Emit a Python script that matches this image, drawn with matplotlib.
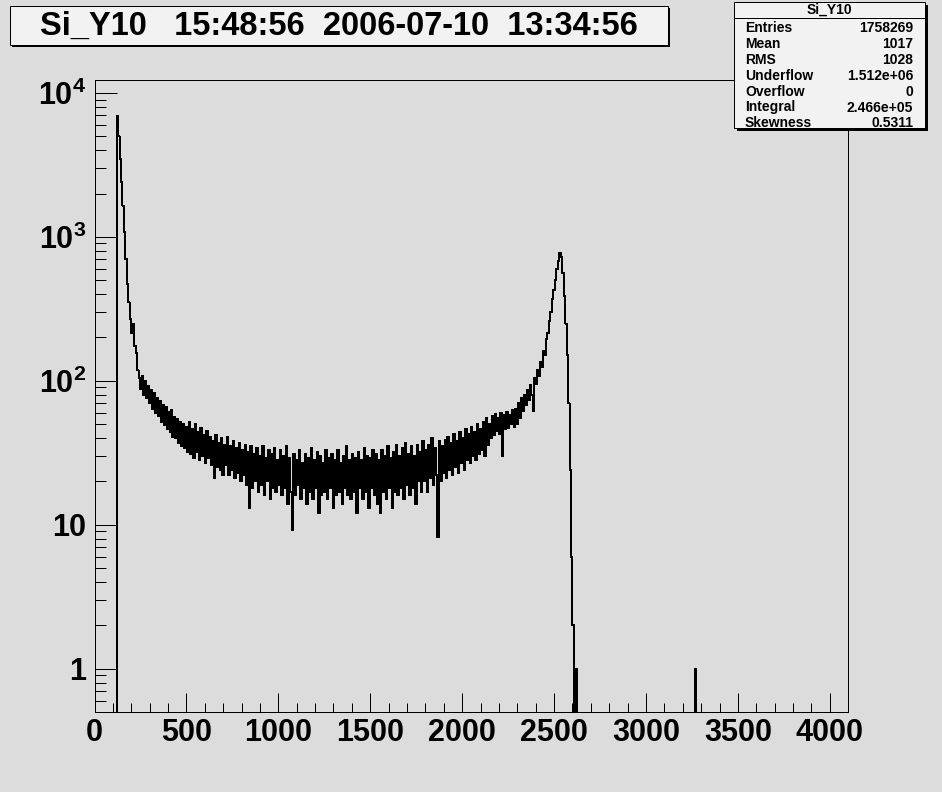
import numpy as np
import matplotlib
matplotlib.use("Agg")
import matplotlib.pyplot as plt
from matplotlib.patches import Rectangle
from matplotlib.ticker import FuncFormatter, MultipleLocator, LogLocator

# ---------------- data ----------------
title_text = "Si_Y10   15:48:56  2006-07-10  13:34:56"
stats_name = "Si_Y10"
stats_labels = ["Entries", "Mean", "RMS", "Underflow", "Overflow", "Integral", "Skewness"]
stats_values = ["1758269", "1017", "1028", "1.512e+06", "0", "2.466e+05", "0.5311"]

bin_width = 8          # channels per drawn bin
first_channel = 120    # first non-empty channel

# counts per 8-channel bin
counts_left_peak = [6900, 5000, 3500, 2400, 1650, 1080, 700, 470, 350, 270, 215, 250, 175, 155, 118, 105]
counts_noise = [
    88, 108, 80, 100, 76, 92, 70, 87, 64, 82, 60, 76, 57, 72, 52, 68,
    49, 66, 46, 61, 44, 63, 41, 56, 40, 54, 37, 52, 35, 50, 34, 48,
    32, 52, 31, 46, 29, 50, 32, 44, 28, 47, 30, 42, 27, 45, 29, 41,
    26, 38, 21, 42, 25, 37, 24, 40, 22, 36, 26, 41, 22, 35, 24, 38,
    21, 34, 23, 37, 20, 33, 22, 36, 19, 32, 13, 35, 18, 31, 20, 34,
    17, 30, 19, 35, 16, 29, 20, 33, 15, 31, 18, 34, 17, 28, 19, 33,
    16, 30, 18, 35, 14, 29, 17, 9.2, 31, 16, 28, 19, 33, 15, 27, 18,
    31, 14, 29, 17, 34, 15, 28, 18, 32, 12, 30, 16, 27, 17, 33, 15,
    29, 18, 31, 13, 28, 16, 33, 17, 27, 14, 30, 18, 35, 16, 28, 15,
    31, 17, 29, 12, 32, 18, 28, 15, 34, 17, 30, 13, 29, 18, 33, 16,
    31, 14, 28, 12, 33, 17, 30, 15, 35, 18, 29, 13, 32, 17, 36, 16,
    30, 18, 34, 15, 37, 19, 31, 16, 35, 18, 30, 14, 36, 20, 32, 17,
    38, 20, 33, 17, 36, 21, 40, 19, 34, 22, 8.2, 38, 20, 35, 23, 39,
    21, 41, 24, 37, 22, 43, 25, 38, 23, 44, 27, 40, 24, 46, 28, 43,
    27, 48, 30, 44, 28, 50, 31, 46, 33, 52, 30, 55, 36, 50, 40, 57,
    42, 59, 45, 55, 43, 60, 30, 58, 46, 61, 47, 58, 50, 63, 48, 64,
    50, 70, 55, 76, 62, 80, 68, 87, 74, 94, 80, 62, 104, 95, 118, 108,
]
counts_right_peak = [135, 125, 160, 150, 195, 215, 260, 300, 370, 430, 500, 600, 680, 770, 730, 560,
                     390, 250, 150, 70, 24, 6, 2, 0, 1, 0]
extra_channels = [3264]
extra_counts = [1]

x_range = (0, 4096)
y_range = (0.5, 12300)
x_major = 500
x_minor = 100

# ---------------- styling ----------------
plt.rcParams["font.family"] = ["Liberation Sans", "DejaVu Sans"]
plt.rcParams["font.weight"] = "bold"
plt.rcParams["mathtext.fontset"] = "custom"
plt.rcParams["mathtext.rm"] = "Liberation Sans:bold"
plt.rcParams["mathtext.bf"] = "Liberation Sans:bold"
plt.rcParams["mathtext.it"] = "Liberation Sans:bold"

BG = "#dcdcdc"
BOX = "#f2f2f2"
W, H = 942, 792
PX = 72.0 / 100.0  # points per pixel

fig = plt.figure(figsize=(W / 100, H / 100), dpi=100, facecolor=BG)

L, R, T, B = 94.5, 847.5, 80, 712
ax = fig.add_axes([L / W, 1 - B / H, (R - L) / W, (B - T) / H])
ax.set_facecolor(BG)
for s in ax.spines.values():
    s.set_linewidth(1 * PX)
    s.set_color("black")

# histogram
n_bins = (x_range[1] - x_range[0]) // bin_width
counts = np.zeros(n_bins)
seq = np.array(counts_left_peak + counts_noise + counts_right_peak, dtype=float)
i0 = first_channel // bin_width
counts[i0:i0 + len(seq)] = seq
for ch, c in zip(extra_channels, extra_counts):
    counts[ch // bin_width] = c
edges = x_range[0] + np.arange(n_bins + 1) * bin_width
yplot = np.where(counts > 0, counts, 1e-3)
ax.step(edges, np.r_[yplot, yplot[-1]], where="post", color="black",
        lw=1 * PX, antialiased=False)
# the dense noisy stretch is drawn a touch heavier so it reads as a solid band
n0 = i0 + len(counts_left_peak)
n1 = n0 + len(counts_noise)
ax.step(edges[n0:n1 + 1], np.r_[yplot[n0:n1], yplot[n1 - 1]], where="post",
        color="black", lw=1.5 * PX, antialiased=False)

ax.set_yscale("log")
ax.set_xlim(*x_range)
ax.set_ylim(*y_range)

ax.xaxis.set_major_locator(MultipleLocator(x_major))
ax.xaxis.set_minor_locator(MultipleLocator(x_minor))
ax.yaxis.set_major_locator(LogLocator(base=10, numticks=20))
ax.yaxis.set_minor_locator(LogLocator(base=10, subs=np.arange(2, 10), numticks=20))


def yfmt(v, pos):
    e = int(round(np.log10(v)))
    if e == 0:
        return "1"
    if e == 1:
        return "10"
    return r"$\mathbf{10^{%d}}$" % e


ax.yaxis.set_major_formatter(FuncFormatter(yfmt))
ax.yaxis.set_minor_formatter(FuncFormatter(lambda v, p: ""))
ax.tick_params(axis="both", which="both", direction="in", top=False, right=False,
               width=1 * PX, colors="black")
ax.tick_params(axis="x", which="major", length=19 * PX, pad=6 * PX, labelsize=22)
ax.tick_params(axis="x", which="minor", length=9 * PX)
ax.tick_params(axis="y", which="major", length=22 * PX, pad=8 * PX, labelsize=22)
ax.tick_params(axis="y", which="minor", length=11 * PX)
for lab in ax.get_xticklabels() + ax.get_yticklabels():
    lab.set_fontweight("bold")

# ---------------- overlay: title and stats box ----------------
ov = fig.add_axes([0, 0, 1, 1], zorder=10)
ov.set_xlim(0, W)
ov.set_ylim(H, 0)
ov.axis("off")
ov.patch.set_alpha(0)

# title box
ov.add_patch(Rectangle((12, 8), 658, 39, facecolor="black", edgecolor="none"))
ov.add_patch(Rectangle((10, 6), 658, 39, facecolor=BOX, edgecolor="black", lw=1 * PX))
ov.text(339, 26.5, title_text, ha="center", va="center", fontsize=23.5, fontweight="bold")

# stats box
sx0, sy0, sw, sh = 734, 2, 191, 126
ov.add_patch(Rectangle((sx0 + 3, sy0 + 3), sw, sh, facecolor="black", edgecolor="none"))
ov.add_patch(Rectangle((sx0, sy0), sw, sh, facecolor=BOX, edgecolor="black", lw=1 * PX))
ov.plot([sx0, sx0 + sw], [18, 18], color="black", lw=1 * PX)
ov.text(sx0 + sw / 2, 10, stats_name, ha="center", va="center", fontsize=10, fontweight="bold")
for i, (lab, val) in enumerate(zip(stats_labels, stats_values)):
    yy = 28.5 + 15.8 * i
    ov.text(745, yy, lab, ha="left", va="center", fontsize=10, fontweight="bold")
    ov.text(913, yy, val, ha="right", va="center", fontsize=10, fontweight="bold")

fig.savefig("out.png", dpi=100, facecolor=BG)
